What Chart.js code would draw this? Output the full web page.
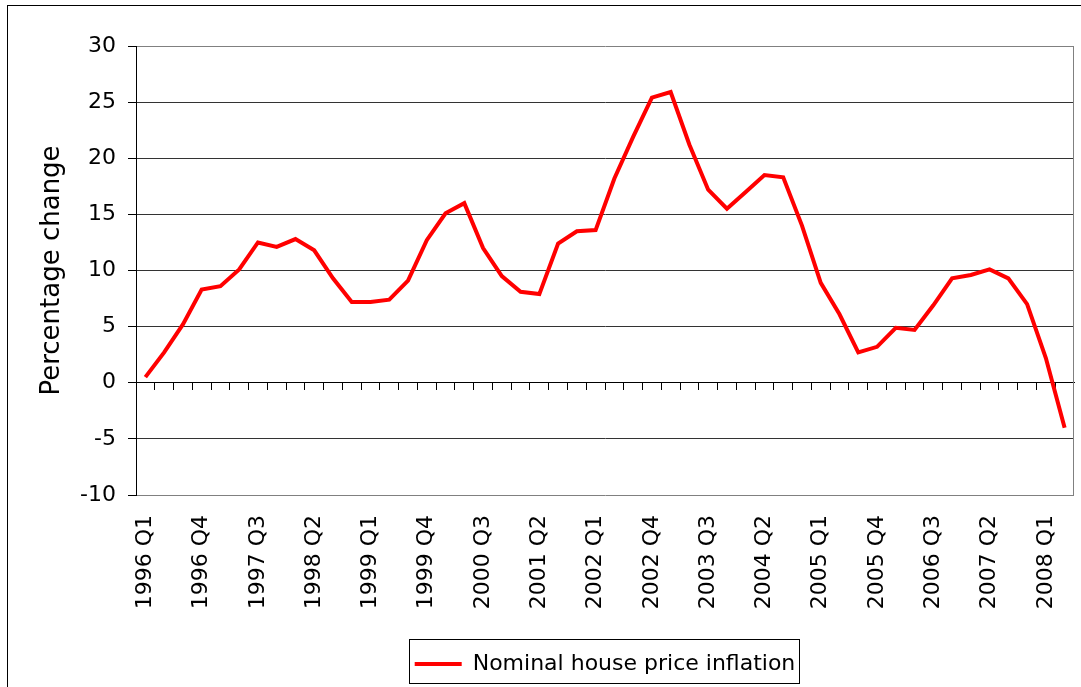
<!DOCTYPE html>
<html>
<head>
<meta charset="utf-8">
<title>Nominal house price inflation</title>
<script src="https://cdn.jsdelivr.net/npm/chart.js@4/dist/chart.umd.min.js"></script>
<style>
  html, body { margin: 0; padding: 0; background: #fff; }
  #wrap { position: relative; width: 1081px; height: 687px; }
</style>
</head>
<body>
<div id="wrap"><canvas id="chart"></canvas></div>
<script>
// quarters 1996 Q1 .. 2008 Q2
const quarters = [
  '1996 Q1', '1996 Q2', '1996 Q3', '1996 Q4',
  '1997 Q1', '1997 Q2', '1997 Q3', '1997 Q4',
  '1998 Q1', '1998 Q2', '1998 Q3', '1998 Q4',
  '1999 Q1', '1999 Q2', '1999 Q3', '1999 Q4',
  '2000 Q1', '2000 Q2', '2000 Q3', '2000 Q4',
  '2001 Q1', '2001 Q2', '2001 Q3', '2001 Q4',
  '2002 Q1', '2002 Q2', '2002 Q3', '2002 Q4',
  '2003 Q1', '2003 Q2', '2003 Q3', '2003 Q4',
  '2004 Q1', '2004 Q2', '2004 Q3', '2004 Q4',
  '2005 Q1', '2005 Q2', '2005 Q3', '2005 Q4',
  '2006 Q1', '2006 Q2', '2006 Q3', '2006 Q4',
  '2007 Q1', '2007 Q2', '2007 Q3', '2007 Q4',
  '2008 Q1', '2008 Q2'
];

// annual % change
const inflation = [
  0.5, 2.7, 5.2, 8.3, 8.6, 10.1, 12.5, 12.1, 12.8, 11.8,
  9.3, 7.2, 7.2, 7.4, 9.1, 12.7, 15.1, 16.0, 12.0, 9.5,
  8.1, 7.9, 12.4, 13.5, 13.6, 18.2, 21.9, 25.4, 25.9, 21.2,
  17.2, 15.5, 17.0, 18.5, 18.3, 14.0, 8.9, 6.1, 2.7, 3.2,
  4.9, 4.7, 6.9, 9.3, 9.6, 10.1, 9.3, 7.0, 2.2, -4.0
];

const seriesName = 'Nominal house price inflation';
const yTitle = 'Percentage change';
const yMin = -10;
const yMax = 30;
const yStep = 5;
const labelEvery = 3; // only every third quarter gets a label

const FONT = 'DejaVu Sans';

// outer frame of the chart object + grey right edge of the plot area
const framePlugin = {
  id: 'frame',
  beforeDraw(chart) {
    const ctx = chart.ctx;
    ctx.save();
    ctx.fillStyle = '#fff';
    ctx.fillRect(0, 0, chart.width, chart.height);
    ctx.strokeStyle = '#000';
    ctx.lineWidth = 1;
    ctx.strokeRect(7.5, 5.5, chart.width + 50, chart.height + 50);
    ctx.restore();
  },
  beforeDatasetsDraw(chart) {
    const a = chart.chartArea;
    const ctx = chart.ctx;
    ctx.save();
    ctx.strokeStyle = '#808080';
    ctx.lineWidth = 1;
    ctx.beginPath();
    ctx.moveTo(Math.round(a.right) - 0.5, a.top);
    ctx.lineTo(Math.round(a.right) - 0.5, a.bottom);
    ctx.stroke();
    ctx.restore();
  }
};

// box round the legend, like the excel one
const legendBox = {
  id: 'legendBox',
  afterDraw(chart) {
    const hb = chart.legend && chart.legend.legendHitBoxes[0];
    if (!hb) return;
    const ctx = chart.ctx;
    ctx.save();
    ctx.strokeStyle = '#000';
    ctx.lineWidth = 1;
    ctx.strokeRect(Math.round(hb.left - 6) + 0.5, Math.round(hb.top - 14) + 0.5,
      Math.round(hb.width + 9), Math.round(hb.height + 22));
    ctx.restore();
  }
};

new Chart(document.getElementById('chart'), {
  type: 'line',
  data: {
    labels: quarters,
    datasets: [{
      label: seriesName,
      data: inflation,
      borderColor: '#ff0000',
      backgroundColor: '#ff0000',
      borderWidth: 4,
      pointRadius: 0,
      tension: 0,
      xAxisID: 'x',
      yAxisID: 'y'
    }]
  },
  options: {
    responsive: true,
    maintainAspectRatio: false,
    animation: false,
    layout: { padding: { left: 29, right: 7, top: 46, bottom: 2 } },
    plugins: {
      tooltip: { enabled: false },
      legend: {
        position: 'bottom',
        fullSize: false,
        labels: {
          usePointStyle: true,
          pointStyle: 'line',
          pointStyleWidth: 47,
          color: '#000',
          padding: 10,
          font: { family: FONT, size: 22 }
        }
      }
    },
    scales: {
      // label axis at the bottom
      x: {
        type: 'category',
        position: 'bottom',
        offset: true,
        grid: { display: false, drawTicks: false },
        border: { display: false },
        ticks: {
          autoSkip: false,
          maxRotation: 90,
          minRotation: 90,
          padding: 20,
          color: '#000',
          font: { family: FONT, size: 22 },
          callback: function (val, i) {
            return i % labelEvery === 0 ? this.getLabelForValue(val) : '';
          }
        },
        afterFit: function (scale) {
          scale.height = 148;
          // rotated labels would otherwise eat into the right side
          scale.paddingLeft = 0;
          scale.paddingRight = 0;
        }
      },
      // category axis line crossing at zero, with tick marks between quarters
      x0: {
        type: 'category',
        position: { y: 0 },
        offset: true,
        grid: {
          offset: true,
          drawOnChartArea: false,
          tickLength: 7,
          tickColor: '#000'
        },
        border: { color: '#000', width: 1 },
        ticks: { display: false },
        afterFit: function (scale) { scale.height = 0; }
      },
      y: {
        min: yMin,
        max: yMax,
        ticks: {
          stepSize: yStep,
          padding: 12,
          color: '#000',
          font: { family: FONT, size: 22 }
        },
        grid: {
          color: function (ctx) {
            const v = ctx.tick && ctx.tick.value;
            return (v === yMin || v === yMax) ? '#808080' : '#333';
          },
          tickColor: '#000',
          tickLength: 8
        },
        border: { color: '#000', width: 1 },
        title: {
          display: true,
          text: yTitle,
          color: '#000',
          padding: { top: 8, bottom: 0 },
          font: { family: FONT, size: 26 }
        },
        afterFit: function (scale) { scale.width = 107; }
      }
    }
  },
  plugins: [framePlugin, legendBox]
});
</script>
</body>
</html>
